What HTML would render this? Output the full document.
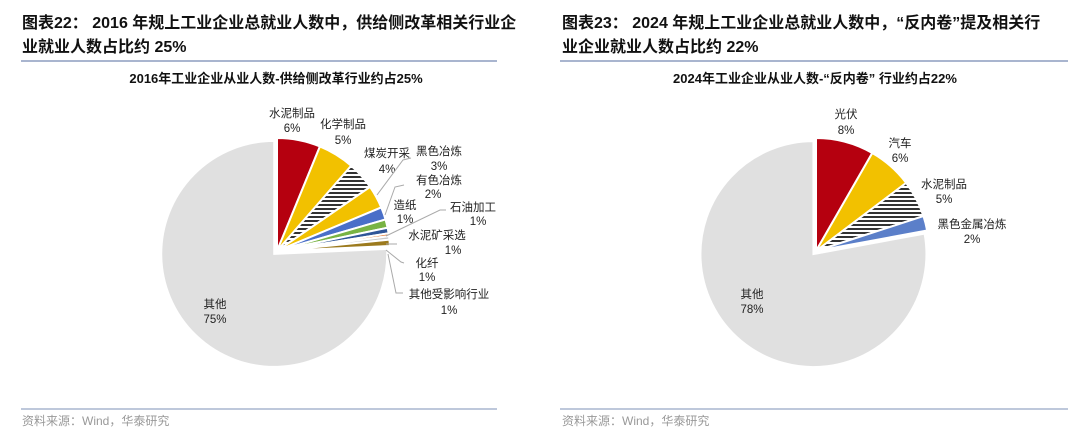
<!DOCTYPE html>
<html><head><meta charset="utf-8">
<style>
body{margin:0;background:#fff;}
svg{display:block;font-family:"Liberation Sans","Noto Sans CJK SC",sans-serif;}
.t{font-size:16px;font-weight:bold;fill:#111;}
.st{font-size:13px;font-weight:bold;fill:#111;}
.lb{font-size:11.5px;fill:#222;}
.src{font-size:12px;fill:#999;}
.ld{stroke:#aaa;stroke-width:1;fill:none;}
</style></head><body>
<svg id="c" width="1080" height="447" viewBox="0 0 1080 447">
<defs>
<pattern id="hatch" width="4" height="4" patternUnits="userSpaceOnUse">
<rect width="4" height="4" fill="#fff"/><rect width="4" height="2" fill="#333"/>
</pattern>
</defs>
<g>
<text class="t" x="22" y="28">图表22： 2016 年规上工业企业总就业人数中，供给侧改革相关行业企</text>
<text class="t" x="22" y="52">业就业人数占比约 25%</text>
<line x1="21" y1="61" x2="497" y2="61" stroke="#a9b5cf" stroke-width="2"/>
<text class="st" x="276" y="83" text-anchor="middle">2016年工业企业从业人数-供给侧改革行业约占25%</text>
<g id="pieL"></g>
<g>
<text class="lb" text-anchor="middle" x="292" y="117">水泥制品</text><text class="lb" text-anchor="middle" x="292" y="132">6%</text>
<text class="lb" text-anchor="middle" x="343" y="128">化学制品</text><text class="lb" text-anchor="middle" x="343" y="144">5%</text>
<text class="lb" text-anchor="middle" x="387" y="157">煤炭开采</text><text class="lb" text-anchor="middle" x="387" y="173">4%</text>
<text class="lb" text-anchor="middle" x="439" y="155">黑色冶炼</text><text class="lb" text-anchor="middle" x="439" y="170">3%</text>
<text class="lb" text-anchor="middle" x="439" y="184">有色冶炼</text><text class="lb" text-anchor="middle" x="433" y="198">2%</text>
<text class="lb" text-anchor="middle" x="405" y="209">造纸</text><text class="lb" text-anchor="middle" x="405" y="223">1%</text>
<text class="lb" text-anchor="middle" x="473" y="211">石油加工</text><text class="lb" text-anchor="middle" x="478" y="225">1%</text>
<text class="lb" text-anchor="middle" x="437" y="239">水泥矿采选</text><text class="lb" text-anchor="middle" x="453" y="254">1%</text>
<text class="lb" text-anchor="middle" x="427" y="267">化纤</text><text class="lb" text-anchor="middle" x="427" y="281">1%</text>
<text class="lb" text-anchor="middle" x="449" y="298">其他受影响行业</text><text class="lb" text-anchor="middle" x="449" y="314">1%</text>
<text class="lb" text-anchor="middle" x="215" y="308">其他</text><text class="lb" text-anchor="middle" x="215" y="323">75%</text>
<polyline class="ld" points="377,195 403,160 411,158"/>
<polyline class="ld" points="385,215 395,187 404,185"/>
<polyline class="ld" points="386,236 440,210 446,210"/>
<polyline class="ld" points="386,244 397,244"/>
<polyline class="ld" points="386,250 401,262 404,263"/>
<polyline class="ld" points="388,254 396,293 403,293"/>
</g>
<line x1="21" y1="409" x2="497" y2="409" stroke="#a9b5cf" stroke-width="1.5"/>
<text class="src" x="22" y="425">资料来源：Wind，华泰研究</text>
</g>
<g>
<text class="t" x="562" y="28">图表23： 2024 年规上工业企业总就业人数中，“反内卷”提及相关行</text>
<text class="t" x="562" y="52">业企业就业人数占比约 22%</text>
<line x1="560" y1="61" x2="1068" y2="61" stroke="#a9b5cf" stroke-width="2"/>
<text class="st" x="815" y="83" text-anchor="middle">2024年工业企业从业人数-“反内卷” 行业约占22%</text>
<g id="pieR"></g>
<g>
<text class="lb" text-anchor="middle" x="846" y="118">光伏</text><text class="lb" text-anchor="middle" x="846" y="134">8%</text>
<text class="lb" text-anchor="middle" x="900" y="147">汽车</text><text class="lb" text-anchor="middle" x="900" y="162">6%</text>
<text class="lb" text-anchor="middle" x="944" y="188">水泥制品</text><text class="lb" text-anchor="middle" x="944" y="203">5%</text>
<text class="lb" text-anchor="middle" x="972" y="228">黑色金属冶炼</text><text class="lb" text-anchor="middle" x="972" y="243">2%</text>
<text class="lb" text-anchor="middle" x="752" y="298">其他</text><text class="lb" text-anchor="middle" x="752" y="313">78%</text>
</g>
<line x1="560" y1="409" x2="1068" y2="409" stroke="#a9b5cf" stroke-width="1.5"/>
<text class="src" x="562" y="425">资料来源：Wind，华泰研究</text>
</g>
</svg>
<script>
const leftCategories=["水泥制品","化学制品","煤炭开采","黑色冶炼","有色冶炼","造纸","石油加工","水泥矿采选","化纤","其他受影响行业","其他"];
const leftValues=[6.2,5.2,4.0,3.3,1.8,1.2,0.8,0.4,0.5,0.9,75.7];
const leftColors=["#b5000f","#f2c100","url(#hatch)","#f2c100","#4a6fc8","#78b343","#2f5597","#e07b39","#c8c8c8","#9c7a1e","#e0e0e0"];
const rightCategories=["光伏","汽车","水泥制品","黑色金属冶炼","其他"];
const rightValues=[8.3,6.4,5.3,2.1,77.9];
const rightColors=["#b5000f","#f2c100","url(#hatch)","#5b7fc9","#e0e0e0"];
const NS="http://www.w3.org/2000/svg";
function drawPie(gid,cats,vals,cols,cx,cy,r){
  const g=document.getElementById(gid);
  const tot=vals.reduce((a,b)=>a+b,0);
  let a0=-Math.PI/2;
  vals.forEach((v,i)=>{
    const a1=a0+v/tot*2*Math.PI;
    const last=i===vals.length-1;
    const mid=(a0+a1)/2;
    const ox=last?Math.cos(mid)*4:0, oy=last?Math.sin(mid)*4:0;
    const x=cx+ox,y=cy+oy;
    const large=(a1-a0)>Math.PI?1:0;
    const d=`M${x},${y}L${x+r*Math.cos(a0)},${y+r*Math.sin(a0)}A${r},${r} 0 ${large} 1 ${x+r*Math.cos(a1)},${y+r*Math.sin(a1)}Z`;
    const p=document.createElementNS(NS,"path");
    p.setAttribute("d",d);
    p.setAttribute("fill",cols[i]);
    p.setAttribute("stroke","#fff");
    p.setAttribute("stroke-width","2");
    
    
    g.appendChild(p);
    a0=a1;
  });
}
drawPie("pieL",leftCategories,leftValues,leftColors,277,251,113);
drawPie("pieR",rightCategories,rightValues,rightColors,816,251,113);
</script>
</body></html>
